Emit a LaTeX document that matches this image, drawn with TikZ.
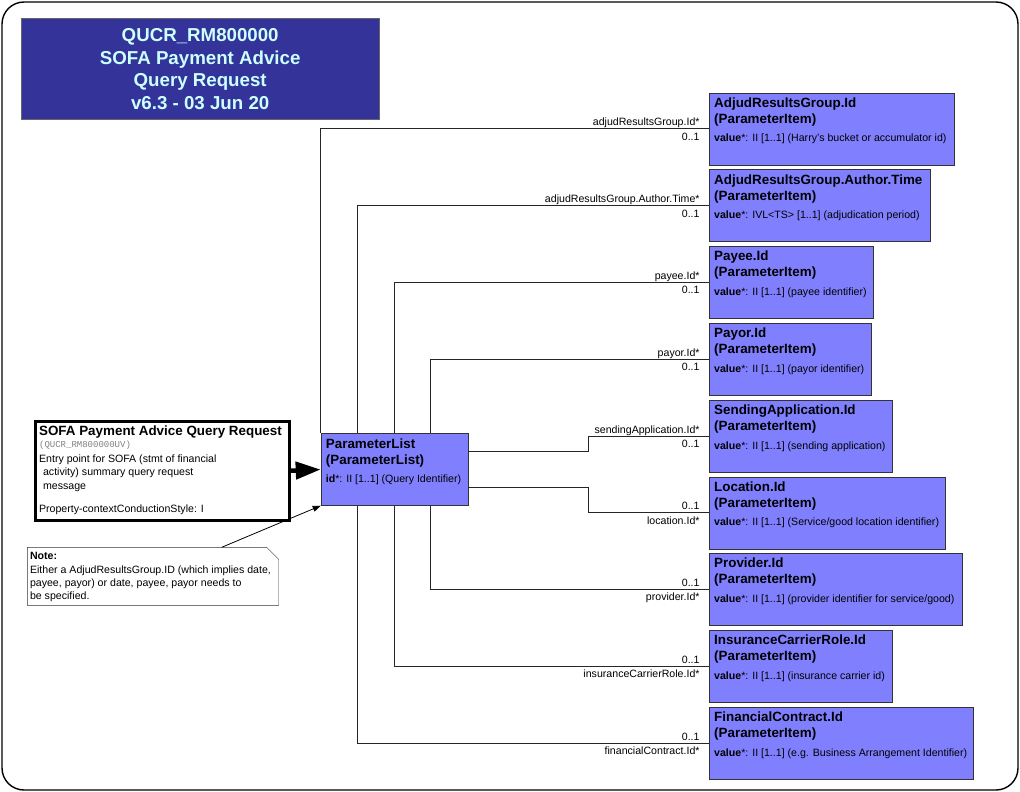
\documentclass[tikz,border=0pt]{standalone}
\usepackage{fontspec}
\setmainfont{Liberation Sans}
\setmonofont{Liberation Mono}
\usepackage{xcolor}
\usetikzlibrary{arrows.meta,calc}
\definecolor{itemblue}{HTML}{8080FF}
\definecolor{titleblue}{HTML}{333399}
\definecolor{titletext}{HTML}{CCFFFF}
\newcommand{\itemvalue}[2]{{\fontsize{10.6}{12}\selectfont\mdseries\textbf{#1}*: #2}}
\tikzset{
  item/.style={ % image of a parameter item
    draw=black!80, fill=itemblue, rectangle, anchor=north west,
    minimum height=72pt, inner sep=0pt
  },
  itemtext/.style={ % name, class and value lines of an item
    anchor=north west, align=left, inner sep=0pt,
    xshift=5pt, yshift=-5pt,
    font=\fontsize{13.4}{16}\selectfont\bfseries
  },
  entry/.style={ % the entry point box
    draw, line width=3pt, fill=white, anchor=north west,
    minimum width=254pt, minimum height=98.5pt, inner sep=0pt
  },
  entrytext/.style={
    anchor=north west, align=left, inner sep=0pt,
    xshift=5.4pt, yshift=-6pt,
    font=\fontsize{10.6}{13.3}\selectfont
  },
  notebox/.style={ % a note, its outline with the cut corner is drawn apart
    fill=white, rectangle, anchor=north west,
    minimum width=251pt, minimum height=57.7pt, inner sep=0pt
  },
  notetext/.style={
    anchor=north west, align=left, inner sep=0pt,
    xshift=2.5pt, yshift=-5.2pt,
    font=\fontsize{10.6}{13.3}\selectfont
  },
  titlebox/.style={
    draw=black!60, fill=titleblue, text=titletext, anchor=north west,
    minimum width=358.6pt, minimum height=100.7pt, inner sep=0pt,
    align=center, font=\fontsize{18.7}{22.5}\selectfont\bfseries
  },
  role/.style={
    anchor=base east, inner sep=0pt, xshift=-9pt,
    font=\fontsize{10.6}{12}\selectfont
  },
  over/.style={role, yshift=3pt},
  under/.style={role, yshift=-11.5pt},
  conn/.style={draw=black!85, line width=0.9pt}
}
\begin{document}
\begin{tikzpicture}[x=1pt,y=-1pt]
  \useasboundingbox (0,0) rectangle (1020,792);
  \draw[line width=1.4pt, rounded corners=22pt] (2,2) rectangle (1018,790);

  \node[titlebox] (title) at (20.7,18.3)
    {QUCR\_RM800000\\SOFA Payment Advice\\Query Request\\v6.3 - 03 Jun 20};

  \node[entry, label={[entrytext]north west:{%
    {\fontsize{13.4}{13}\selectfont\bfseries SOFA Payment Advice Query Request}\\[-1.7pt]%
    {\fontsize{9}{9}\selectfont\ttfamily\color{gray}(QUCR\_RM800000UV)}\\[1.6pt]%
    Entry point for SOFA (stmt of financial\\
    \hspace*{4pt}activity) summary query request\\
    \hspace*{4pt}message\\[10.4pt]%
    Property-contextConductionStyle: I}}] (entry) at (33.5,420) {};

  \node[notebox, label={[notetext]north west:{%
    {\bfseries Note:}\\
    Either a AdjudResultsGroup.ID (which implies date,\\
    payee, payor) or date, payee, payor needs to\\
    be specified.}}] (note) at (27.3,547.3) {};
  \draw[draw=black!80] (note.north west) -- ([xshift=-12pt]note.north east)
    -- ([yshift=-12pt]note.north east) -- (note.south east) -- (note.south west) -- cycle;

  \node[item, minimum width=147pt, label={[itemtext]north west:{ParameterList\\(ParameterList)\\[2.3pt]\itemvalue{id}{II [1..1] (Query Identifier)}}}] (plist) at (320.7,433.3) {};

  \node[item, minimum width=245pt, label={[itemtext]north west:{AdjudResultsGroup.Id\\(ParameterItem)\\[2.3pt]\itemvalue{value}{II [1..1] (Harry's bucket or accumulator id)}}}] (adjud) at (709,92.5) {};
  \node[item, minimum width=221pt, label={[itemtext]north west:{AdjudResultsGroup.Author.Time\\(ParameterItem)\\[2.3pt]\itemvalue{value}{IVL<TS> [1..1] (adjudication period)}}}] (atime) at (709,169.3) {};
  \node[item, minimum width=164pt, label={[itemtext]north west:{Payee.Id\\(ParameterItem)\\[2.3pt]\itemvalue{value}{II [1..1] (payee identifier)}}}] (payee) at (709,246) {};
  \node[item, minimum width=162pt, label={[itemtext]north west:{Payor.Id\\(ParameterItem)\\[2.3pt]\itemvalue{value}{II [1..1] (payor identifier)}}}] (payor) at (709,323) {};
  \node[item, minimum width=183pt, label={[itemtext]north west:{SendingApplication.Id\\(ParameterItem)\\[2.3pt]\itemvalue{value}{II [1..1] (sending application)}}}] (sendapp) at (709,400) {};
  \node[item, minimum width=236pt, label={[itemtext]north west:{Location.Id\\(ParameterItem)\\[2.3pt]\itemvalue{value}{II [1..1] (Service/good location identifier)}}}] (location) at (709,476.5) {};
  \node[item, minimum width=253pt, label={[itemtext]north west:{Provider.Id\\(ParameterItem)\\[2.3pt]\itemvalue{value}{II [1..1] (provider identifier for service/good)}}}] (provider) at (709,553) {};
  \node[item, minimum width=183pt, label={[itemtext]north west:{InsuranceCarrierRole.Id\\(ParameterItem)\\[2.3pt]\itemvalue{value}{II [1..1] (insurance carrier id)}}}] (inscarrier) at (709,630) {};
  \node[item, minimum width=264pt, label={[itemtext]north west:{FinancialContract.Id\\(ParameterItem)\\[2.3pt]\itemvalue{value}{II [1..1] (e.g. Business Arrangement Identifier)}}}] (fincontract) at (709,707) {};

  % entry point and note
  \draw[line width=4.5pt, -{Triangle[length=25pt,width=17pt]}] (entry.east) -- (plist.west);
  \draw[line width=0.8pt, -{Triangle[length=8pt,width=6pt]}] ([xshift=194.4pt]note.north west) -- (plist.south west);

  % associations from the parameter list
  \draw[conn] (plist.north west) |- (adjud.west)
    node[over]{adjudResultsGroup.Id*} node[under]{0..1};
  \draw[conn] ([xshift=37pt]plist.north west) |- (atime.west)
    node[over]{adjudResultsGroup.Author.Time*} node[under]{0..1};
  \draw[conn] ([xshift=73.5pt]plist.north west) |- (payee.west)
    node[over]{payee.Id*} node[under]{0..1};
  \draw[conn] ([xshift=110pt]plist.north west) |- (payor.west)
    node[over]{payor.Id*} node[under]{0..1};
  \draw[conn] ([yshift=18pt]plist.east) -- ++(120,0) |- (sendapp.west)
    node[over]{sendingApplication.Id*} node[under]{0..1};
  \draw[conn] ([yshift=-18pt]plist.east) -- ++(120,0) |- (location.west)
    node[over]{0..1} node[under]{location.Id*};
  \draw[conn] ([xshift=110pt]plist.south west) |- (provider.west)
    node[over]{0..1} node[under]{provider.Id*};
  \draw[conn] ([xshift=73.5pt]plist.south west) |- (inscarrier.west)
    node[over]{0..1} node[under]{insuranceCarrierRole.Id*};
  \draw[conn] ([xshift=37pt]plist.south west) |- (fincontract.west)
    node[over]{0..1} node[under]{financialContract.Id*};
\end{tikzpicture}
\end{document}
